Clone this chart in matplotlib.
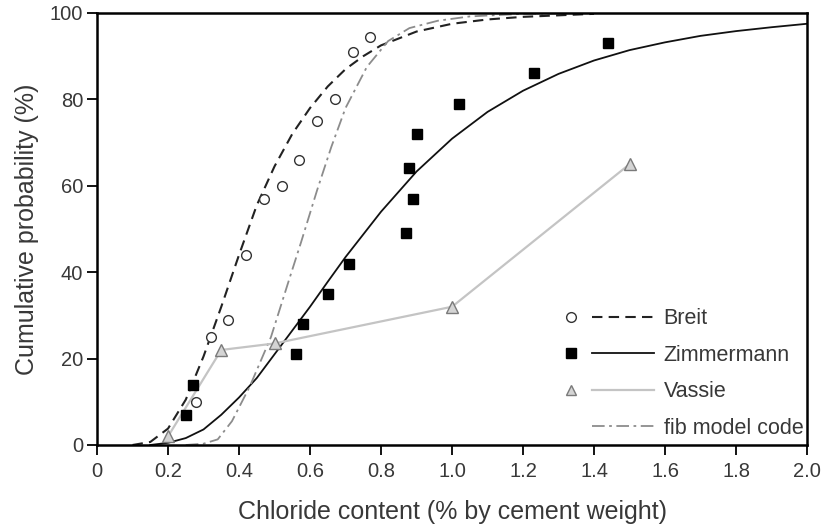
"""Cumulative probability of chloride content - Breit / Zimmermann / Vassie / fib
"""
import matplotlib
matplotlib.use('Agg')
import matplotlib.pyplot as plt
from matplotlib.lines import Line2D
from matplotlib.legend_handler import HandlerTuple

# measured points
breit_x = [0.28, 0.32, 0.37, 0.42, 0.47, 0.52, 0.57, 0.62, 0.67, 0.72, 0.77]
breit_y = [10, 25, 29, 44, 57, 60, 66, 75, 80, 91, 94.5]
zimm_x = [0.25, 0.27, 0.56, 0.58, 0.65, 0.71, 0.87, 0.88, 0.89, 0.90, 1.02, 1.23, 1.44]
zimm_y = [7, 14, 21, 28, 35, 42, 49, 64, 57, 72, 79, 86, 93]
vassie_x = [0.2, 0.35, 0.5, 1.0, 1.5]
vassie_y = [2, 22, 23.5, 32, 65]

# fitted curves
breit_fit_x = [0.10, 0.15, 0.20, 0.25, 0.30, 0.35, 0.40, 0.45, 0.50, 0.55, 0.60, 0.65,
               0.70, 0.75, 0.80, 0.90, 1.00, 1.10, 1.20, 1.40]
breit_fit_y = [0.0, 0.7, 3.8, 10.5, 20.5, 32, 44, 55.5, 64.5, 72, 78, 83, 87, 90,
               92.5, 95.7, 97.5, 98.5, 99.1, 99.8]
zimm_fit_x = [0.15, 0.20, 0.25, 0.30, 0.35, 0.40, 0.45, 0.50, 0.55, 0.60, 0.65, 0.70,
              0.80, 0.90, 1.00, 1.10, 1.20, 1.30, 1.40, 1.50, 1.60, 1.70, 1.80, 1.90, 2.00]
zimm_fit_y = [0.0, 0.5, 1.6, 3.6, 7.0, 11, 15.5, 21, 26.5, 32, 37.8, 43.5, 54, 63.3,
              70.9, 77.1, 82, 85.9, 89, 91.4, 93.2, 94.7, 95.8, 96.7, 97.5]
fib_x = [0.25, 0.30, 0.34, 0.38, 0.43, 0.49, 0.54, 0.575, 0.62, 0.66, 0.70, 0.76,
         0.82, 0.88, 0.96, 1.05, 1.20, 1.40]
fib_y = [0.0, 0.3, 1.3, 5.5, 13.5, 25, 38, 47, 59, 69, 78, 87.5, 93.5, 96.5, 98.2,
         99.2, 99.8, 100]

xticks = [0, 0.2, 0.4, 0.6, 0.8, 1.0, 1.2, 1.4, 1.6, 1.8, 2.0]
xtick_labels = ['0', '0.2', '0.4', '0.6', '0.8', '1.0', '1.2', '1.4', '1.6', '1.8', '2.0']
yticks = [0, 20, 40, 60, 80, 100]

txt_col = '#383838'
plt.rcParams['font.family'] = ['Liberation Sans', 'DejaVu Sans']

fig = plt.figure(figsize=(8.23, 5.25), dpi=100)
ax = fig.add_axes([0.1179, 0.1524, 0.8627, 0.8229])

# curves
ax.plot(breit_fit_x, breit_fit_y, color='#222222', lw=1.5, dashes=(5, 3))
ax.plot(zimm_fit_x, zimm_fit_y, color='#111111', lw=1.3)
ax.plot(fib_x, fib_y, color='#8c8c8c', lw=1.3, dashes=(7, 2.5, 1.5, 2.5))
ax.plot(vassie_x, vassie_y, color='#c4c4c4', lw=1.6)
# points
ax.plot(breit_x, breit_y, 'o', ms=7, mfc='white', mec='#333333', mew=1.0)
ax.plot(zimm_x, zimm_y, 's', ms=6.5, mfc='black', mec='black')
ax.plot(vassie_x, vassie_y, '^', ms=9, mfc='#d4d4d4', mec='#7a7a7a', mew=1.0)

ax.set_xlim(0, 2.0)
ax.set_ylim(0, 100)
ax.set_xticks(xticks)
ax.set_xticklabels(xtick_labels)
ax.set_yticks(yticks)
ax.tick_params(direction='out', length=7, width=1.3, labelsize=14.5,
               labelcolor=txt_col, pad=3)
ax.tick_params(axis='x', pad=5)
for sp in ax.spines.values():
    sp.set_linewidth(1.8)
ax.set_xlabel('Chloride content (% by cement weight)', fontsize=18, color=txt_col, labelpad=14)
ax.set_ylabel('Cumulative probability (%)', fontsize=18, color=txt_col, labelpad=8)

# legend: marker, then line, then label
h_breit = (Line2D([], [], ls='', marker='o', ms=7, mfc='white', mec='#333333'),
           Line2D([], [], color='#222222', lw=1.5, dashes=(5, 3)))
h_zimm = (Line2D([], [], ls='', marker='s', ms=6.5, mfc='black', mec='black'),
          Line2D([], [], color='#111111', lw=1.3))
h_vassie = (Line2D([], [], ls='', marker='^', ms=7, mfc='#d4d4d4', mec='#7a7a7a'),
            Line2D([], [], color='#c4c4c4', lw=1.6))
h_fib = (Line2D([], [], ls=''),
         Line2D([], [], color='#8c8c8c', lw=1.3, dashes=(7, 2.5, 1.5, 2.5)))
leg = ax.legend([h_breit, h_zimm, h_vassie, h_fib],
                ['Breit', 'Zimmermann', 'Vassie', 'fib model code'],
                handler_map={tuple: HandlerTuple(ndivide=None, pad=-0.5)},
                loc='lower right', bbox_to_anchor=(0.995, 0.014), frameon=False,
                fontsize=15.5, handlelength=5.3, handletextpad=0.45,
                labelspacing=0.72, borderpad=0.0, borderaxespad=0.0)
for t in leg.get_texts():
    t.set_color(txt_col)

fig.savefig('out.png', dpi=100)
